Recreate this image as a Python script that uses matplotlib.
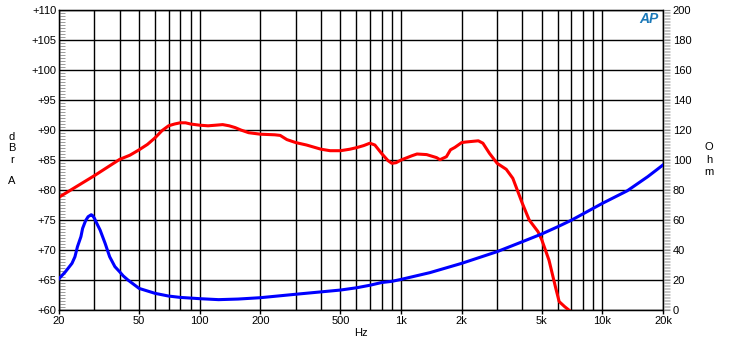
"""Loudspeaker response and impedance chart (AP style)."""

import matplotlib
matplotlib.use("Agg")
import matplotlib.pyplot as plt
from matplotlib.ticker import FixedLocator, MultipleLocator, NullFormatter

plt.rcParams["font.family"] = ["Liberation Sans", "DejaVu Sans"]

# frequency response, dBr A
freq_db = [20, 30, 40, 45, 50, 55, 60, 65, 70, 75, 80, 85, 90, 100, 110, 120,
           130, 140, 150, 160, 175, 200, 236, 251, 271, 300, 339, 400, 444,
           500, 557, 600, 652, 700, 741, 800, 861, 900, 945, 1000, 1130, 1200,
           1340, 1500, 1560, 1680, 1760, 1850, 2000, 2100, 2420, 2550, 2750,
           3000, 3330, 3590, 4000, 4330, 4790, 5000, 5430, 5870, 6100, 6500,
           6870]
level_db = [78.8, 82.4, 85.1, 85.8, 86.7, 87.6, 88.7, 89.9, 90.7, 91.0, 91.2,
            91.2, 91.0, 90.8, 90.7, 90.8, 90.9, 90.7, 90.4, 90.0, 89.55, 89.3,
            89.2, 89.1, 88.4, 87.9, 87.5, 86.8, 86.55, 86.55, 86.8, 87.05,
            87.4, 87.8, 87.5, 86.1, 84.9, 84.45, 84.55, 85.0, 85.7, 86.0,
            85.9, 85.4, 85.05, 85.55, 86.7, 87.1, 87.9, 88.0, 88.2, 87.8,
            86.1, 84.45, 83.45, 81.95, 77.8, 75.0, 73.05, 71.7, 68.3, 63.6,
            61.4, 60.55, 59.9]

# impedance, Ohm
freq_z = [20, 21.4, 22.2, 23.2, 24, 24.7, 25.7, 26.2, 27.1, 27.9, 28.9, 29.3,
          30, 30.8, 32, 33.9, 35.7, 37.9, 40, 41.7, 44, 50, 60, 70, 80, 100,
          124, 155, 200, 300, 500, 600, 700, 800, 900, 1000, 1390, 2000, 3000,
          4000, 5000, 6000, 7000, 10000, 13300, 16800, 20000]
imp_ohm = [20.9, 25.1, 27.8, 31.1, 35.5, 42.2, 48.9, 54.4, 59.5, 62.2, 63.5,
           63.1, 61.1, 57.8, 53.3, 44.4, 35.5, 28.9, 25.5, 22.7, 20.0, 14.4,
           11.1, 9.3, 8.4, 7.55, 6.9, 7.3, 8.2, 10.5, 13.3, 14.8, 16.5, 18.3,
           19.1, 20.4, 24.9, 31.1, 38.9, 45.5, 50.7, 55.5, 59.8, 71.1, 79.5,
           88.9, 96.7]

x_labels = [20, 50, 100, 200, 500, 1000, 2000, 5000, 10000, 20000]
x_label_text = ["20", "50", "100", "200", "500", "1k", "2k", "5k", "10k", "20k"]
grid_freqs = [30, 40, 60, 70, 80, 90, 300, 400, 600, 700, 800, 900,
              3000, 4000, 6000, 7000, 8000, 9000]
db_ticks = list(range(60, 111, 5))
ohm_ticks = list(range(0, 201, 20))

fig = plt.figure(figsize=(7.3, 3.43), dpi=100)
ax = fig.add_axes([59 / 730, 33 / 343, 604 / 730, 300 / 343])
ax.set_xscale("log")
ax.set_xlim(20, 20000)
ax.set_ylim(60, 110)

ax.xaxis.set_major_locator(FixedLocator(x_labels))
ax.xaxis.set_minor_locator(FixedLocator(grid_freqs))
ax.xaxis.set_minor_formatter(NullFormatter())
ax.set_xticklabels(x_label_text)
ax.tick_params(axis="x", which="major", length=3, width=1, color="black",
               labelsize=8, pad=1)
ax.tick_params(axis="x", which="minor", length=0)

ax.yaxis.set_major_locator(FixedLocator(db_ticks))
ax.set_yticklabels([f"+{v}" for v in db_ticks])
ax.yaxis.set_minor_locator(MultipleLocator(0.5))
ax.tick_params(axis="y", which="major", length=0, labelsize=8, pad=2)
ax.tick_params(axis="y", which="minor", direction="in", length=4,
               color="#9a9a9a", width=0.7)

ax.grid(True, which="both", axis="x", color="black", lw=1)
ax.grid(True, which="major", axis="y", color="black", lw=1)
ax.set_axisbelow(True)
for spine in ax.spines.values():
    spine.set_linewidth(1)
    spine.set_color("black")

ax.plot(freq_db, level_db, color="#ff0000", lw=2.2, clip_on=True, zorder=3)

ax2 = ax.twinx()
ax2.set_ylim(0, 200)
ax2.yaxis.set_major_locator(FixedLocator(ohm_ticks))
ax2.yaxis.set_minor_locator(MultipleLocator(1))
ax2.tick_params(axis="y", which="major", direction="out", length=5,
                color="#909090", width=0.8, labelsize=8, pad=2)
ax2.tick_params(axis="y", which="minor", direction="out", length=5,
                color="#b0b0b0", width=0.5)
ax2.plot(freq_z, imp_ohm, color="#0000ff", lw=2.2, zorder=3)

ax.set_xlabel("Hz", fontsize=8, labelpad=2)

# stacked axis titles
for ch, ypix in zip("dBrA", [137, 148, 160, 181]):
    fig.text(12 / 730, 1 - ypix / 343, ch, fontsize=8, ha="center", va="center")
for ch, ypix in zip("Ohm", [147, 160, 172]):
    fig.text(709 / 730, 1 - ypix / 343, ch, fontsize=8, ha="center", va="center")

# logo
fig.text(649 / 730, 1 - 19 / 343, "AP", fontsize=10, fontweight="bold",
         fontstyle="italic", color="#1a78b8", ha="center", va="center")

fig.savefig("out.png", dpi=100)
